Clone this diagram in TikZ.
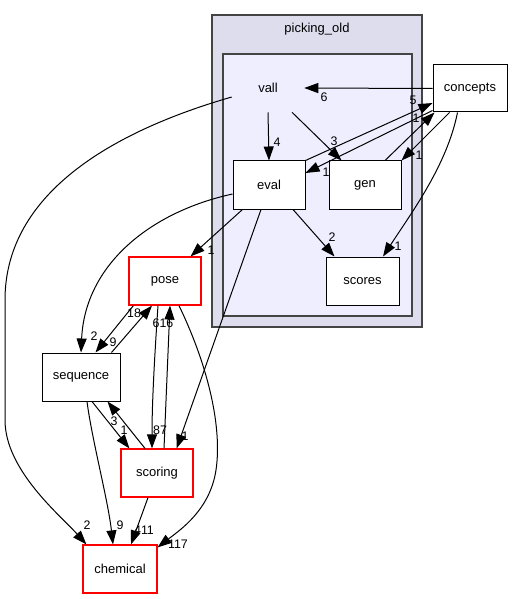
\documentclass[tikz,border=0pt]{standalone}
\usepackage{fontspec}
\setmainfont{Liberation Sans}
\usetikzlibrary{arrows.meta}
\definecolor{outerfill}{HTML}{DDDDEE}
\definecolor{innerfill}{HTML}{EEEEFF}
\definecolor{clusterline}{HTML}{444444}
\definecolor{boxred}{RGB}{255,0,0}
\begin{document}
\begin{tikzpicture}[x=0.75pt,y=-0.75pt,
  dirbox/.style={rectangle,draw=black,fill=white,line width=0.75pt,minimum width=54pt,minimum height=36pt,inner sep=0pt,font=\fontsize{9.75}{11}\selectfont},
  redbox/.style={rectangle,draw=boxred,fill=white,line width=0.9pt,minimum width=54pt,minimum height=36pt,inner sep=0pt,font=\fontsize{9.75}{11}\selectfont},
  lbl/.style={inner sep=0pt,font=\fontsize{9.3}{10}\selectfont},
  edge/.style={draw=black,line width=0.75pt,-{Triangle[length=10.5pt,width=7.5pt]}}]
\useasboundingbox (0,0) rectangle (513,599);
% clusters
\draw[fill=outerfill,draw=clusterline,line width=0.9pt] (212,15) rectangle (422,327);
\node[font=\fontsize{9.75}{11}\selectfont] (title) at (317,29) {picking\_old};
\draw[fill=innerfill,draw=clusterline,line width=0.9pt] (223,54) rectangle (412,316);
% nodes
\node[inner sep=0pt,minimum width=54pt,minimum height=36pt,font=\fontsize{9.75}{11}\selectfont] (vall) at (268,88) {vall};
\node[dirbox,minimum width=55.5pt,minimum height=35.25pt] (concepts) at (470,88.5) {concepts};
\node[dirbox] (eval) at (269,185) {eval};
\node[dirbox] (gen) at (365,185) {gen};
\node[dirbox,minimum width=54.75pt] (scores) at (362.5,281) {scores};
\node[redbox] (pose) at (165,281) {pose};
\node[dirbox,minimum width=58.5pt] (sequence) at (81,377) {sequence};
\node[redbox] (scoring) at (157,473) {scoring};
\node[redbox,minimum width=55.5pt] (chemical) at (120,569) {chemical};
% edges
\draw[edge] ([yshift=-6.75pt]vall.west) .. controls (100,135) and (5,200) .. (5,300) -- (5,420) .. controls (5,470) and (60,515) .. ([xshift=3pt]chemical.north west);
\draw[edge] (concepts.west) -- (vall.east);
\draw[edge] (vall.south) -- (eval.north);
\draw[edge] ([xshift=18pt]vall.south) -- ([xshift=9.75pt]gen.north west);
\draw[edge] (eval.north east) -- ([yshift=-10.9pt]concepts.west);
\draw[edge] ([yshift=1.5pt]concepts.south west) -- ([yshift=9pt]eval.east);
\draw[edge] ([xshift=15pt]gen.north) -- ([xshift=1.5pt]concepts.south west);
\draw[edge] ([xshift=12.75pt]concepts.south west) -- (gen.north east);
\draw[edge] ([xshift=18.75pt]concepts.south west) .. controls (447,165) and (412,212) .. ([xshift=15.4pt]scores.north);
\draw[edge] ([xshift=18pt]eval.south) -- ([xshift=6.75pt]scores.north west);
\draw[edge] ([xshift=7.5pt]eval.south west) -- ([xshift=-8.25pt]pose.north east);
\draw[edge] ([yshift=-6.75pt]eval.west) .. controls (150,212) and (85,265) .. (sequence.north);
\draw[edge] ([xshift=-6pt]eval.south) -- ([xshift=-12.75pt]scoring.north east);
\draw[edge] ([xshift=3.75pt]pose.south west) -- ([xshift=-18.75pt]sequence.north east);
\draw[edge] ([xshift=-6.75pt]sequence.north east) -- ([xshift=-9.75pt]pose.south);
\draw[edge] ([xshift=-5.25pt]pose.south) .. controls (155,350) and (152,400) .. ([xshift=-3.75pt]scoring.north);
\draw[edge] ([xshift=5.25pt]scoring.north) -- ([xshift=3.75pt]pose.south);
\draw[edge] ([xshift=8.25pt]sequence.south) -- ([xshift=6.75pt]scoring.north west);
\draw[edge] ([xshift=-9pt]scoring.north) -- ([xshift=-9.75pt]sequence.south east);
\draw[edge] ([xshift=4.5pt]sequence.south) .. controls (92,440) and (108,500) .. ([xshift=-5.25pt]chemical.north);
\draw[edge] ([xshift=-6.75pt]scoring.south) -- ([xshift=8.25pt]chemical.north);
\draw[edge] ([xshift=10.5pt]pose.south) .. controls (210,370) and (222,430) .. (216,470) .. controls (210,510) and (180,530) .. ([yshift=-2.25pt]chemical.north east);
% labels
\node[lbl] (l6) at (324,97) {6};
\node[lbl] (l4) at (277,142) {4};
\node[lbl] (l3) at (334,141) {3};
\node[lbl] (l5) at (413,100) {5};
\node[lbl] (l1a) at (416,118) {1};
\node[lbl] (l1b) at (326,172) {1};
\node[lbl] (l1c) at (419,155) {1};
\node[lbl] (l1d) at (398,246) {1};
\node[lbl] (l2a) at (332,237) {2};
\node[lbl] (l1e) at (211,250) {1};
\node[lbl] (l18) at (134,313) {18};
\node[lbl] (l9a) at (113,342) {9};
\node[lbl] (l2b) at (94,336) {2};
\node[lbl] (l616) at (163,323) {616};
\node[lbl] (l87) at (160,430) {87};
\node[lbl] (l1f) at (185,436) {1};
\node[lbl] (l3b) at (114,421) {3};
\node[lbl] (l1g) at (124,430) {1};
\node[lbl] (l2c) at (87,525) {2};
\node[lbl] (l9b) at (120,525) {9};
\node[lbl] (l411) at (144,530) {411};
\node[lbl] (l117) at (178,544) {117};
\end{tikzpicture}
\end{document}
